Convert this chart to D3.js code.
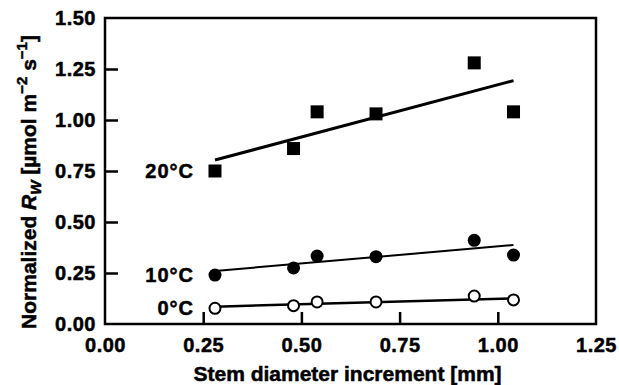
<!DOCTYPE html>
<html>
<head>
<meta charset="utf-8">
<script src="https://cdn.jsdelivr.net/npm/d3@7"></script>
<style>
  body { margin: 0; background: #fff; }
  text { font-family: "Liberation Sans", Arial, sans-serif; font-weight: bold; fill: #000; stroke: #000; stroke-width: 0.5px; }
</style>
</head>
<body>
<div id="chart"></div>
<script>
// data
const xValues = [0.28, 0.48, 0.54, 0.69, 0.94, 1.04];
const rw20 = [0.75, 0.86, 1.04, 1.03, 1.28, 1.04];
const rw10 = [0.24, 0.275, 0.333, 0.33, 0.41, 0.338];
const rw0 = [0.077, 0.09, 0.108, 0.108, 0.137, 0.118];
// fitted lines (start, end)
const fit20 = [0.804, 1.193];
const fit10 = [0.26, 0.387];
const fit0 = [0.085, 0.126];
const xTicks = [0, 0.25, 0.5, 0.75, 1.0, 1.25];
const yTicks = [0, 0.25, 0.5, 0.75, 1.0, 1.25, 1.5];

const width = 619, height = 385;
const margin = { top: 18, right: 23, bottom: 61, left: 105 };
const w = width - margin.left - margin.right,
      h = height - margin.top - margin.bottom;

const svg = d3.select("#chart").append("svg")
    .attr("width", width)
    .attr("height", height);

const g = svg.append("g")
    .attr("transform", `translate(${margin.left},${margin.top})`);

const x = d3.scaleLinear().domain([0, 1.25]).range([0, w]);
const y = d3.scaleLinear().domain([0, 1.5]).range([h, 0]);

// frame
g.append("rect")
    .attr("width", w).attr("height", h)
    .attr("fill", "none").attr("stroke", "#000").attr("stroke-width", 2.5);

// axes with inward ticks
const xAxis = g.append("g")
    .attr("transform", `translate(0,${h})`)
    .call(d3.axisBottom(x).tickValues(xTicks).tickFormat(d3.format(".2f"))
        .tickSizeInner(-12).tickSizeOuter(0).tickPadding(14));
const yAxis = g.append("g")
    .call(d3.axisLeft(y).tickValues(yTicks).tickFormat(d3.format(".2f"))
        .tickSizeInner(-13).tickSizeOuter(0).tickPadding(9));

[xAxis, yAxis].forEach(ax => {
    ax.select(".domain").remove();
    ax.selectAll(".tick line").attr("stroke", "#000").attr("stroke-width", 2.5);
    ax.selectAll(".tick text").style("font-size", "20px").style("font-family", "Liberation Sans, Arial")
        .style("font-weight", "bold").style("letter-spacing", "0.5px").attr("fill", "#000");
});
xAxis.selectAll(".tick text").attr("dy", "0.71em");
// hide ticks that sit on the frame
xAxis.selectAll(".tick line").filter(d => d === 0 || d === 1.25).remove();
yAxis.selectAll(".tick line").filter(d => d === 0 || d === 1.5).remove();

// axis titles
g.append("text")
    .attr("x", w / 2 - 3)
    .attr("y", h + 57)
    .attr("text-anchor", "middle")
    .style("font-size", "21px")
    .text("Stem diameter increment [mm]");

const yt = g.append("text")
    .attr("transform", `translate(${-69},${164}) rotate(-90)`)
    .attr("text-anchor", "middle")
    .style("font-size", "21px");
yt.append("tspan").text("Normalized ");
yt.append("tspan").style("font-style", "italic").text("R");
yt.append("tspan").style("font-style", "italic").style("font-size", "15px").attr("dy", 5).text("W");
yt.append("tspan").attr("dy", -5).text(" [\u00B5mol m");
yt.append("tspan").style("font-size", "15px").attr("dy", -9).text("\u22122");
yt.append("tspan").attr("dy", 9).text(" s");
yt.append("tspan").style("font-size", "15px").attr("dy", -9).text("\u22121");
yt.append("tspan").attr("dy", 9).text("]");

// fitted lines
const line = d3.line().x(d => x(d[0])).y(d => y(d[1]));
const xEnds = [xValues[0], xValues[xValues.length - 1]];
[[fit20, 3], [fit10, 2], [fit0, 2.5]].forEach(([f, sw]) => {
    g.append("path")
        .datum(xEnds.map((xv, i) => [xv, f[i]]))
        .attr("d", line)
        .attr("fill", "none")
        .attr("stroke", "#000")
        .attr("stroke-width", sw);
});

// 20 C squares
g.selectAll(".sq")
    .data(xValues.map((xv, i) => [xv, rw20[i]]))
    .enter().append("rect")
    .attr("class", "sq")
    .attr("x", d => x(d[0]) - 6.5)
    .attr("y", d => y(d[1]) - 6.5)
    .attr("width", 13).attr("height", 13)
    .attr("fill", "#000");

// 10 C filled circles
g.selectAll(".fc")
    .data(xValues.map((xv, i) => [xv, rw10[i]]))
    .enter().append("circle")
    .attr("class", "fc")
    .attr("cx", d => x(d[0]))
    .attr("cy", d => y(d[1]))
    .attr("r", 6.5)
    .attr("fill", "#000");

// 0 C open circles
g.selectAll(".oc")
    .data(xValues.map((xv, i) => [xv, rw0[i]]))
    .enter().append("circle")
    .attr("class", "oc")
    .attr("cx", d => x(d[0]))
    .attr("cy", d => y(d[1]))
    .attr("r", 5.5)
    .attr("fill", "#fff")
    .attr("stroke", "#000")
    .attr("stroke-width", 2);

// series labels
const labels = [["20\u00B0C", 0.75], ["10\u00B0C", 0.24], ["0\u00B0C", 0.077]];
g.selectAll(".lab")
    .data(labels)
    .enter().append("text")
    .attr("x", x(0.28) - 21)
    .attr("y", d => y(d[1]))
    .attr("dy", "0.35em")
    .attr("text-anchor", "end")
    .style("font-size", "20px")
    .style("letter-spacing", "1px")
    .text(d => d[0]);
</script>
</body>
</html>
